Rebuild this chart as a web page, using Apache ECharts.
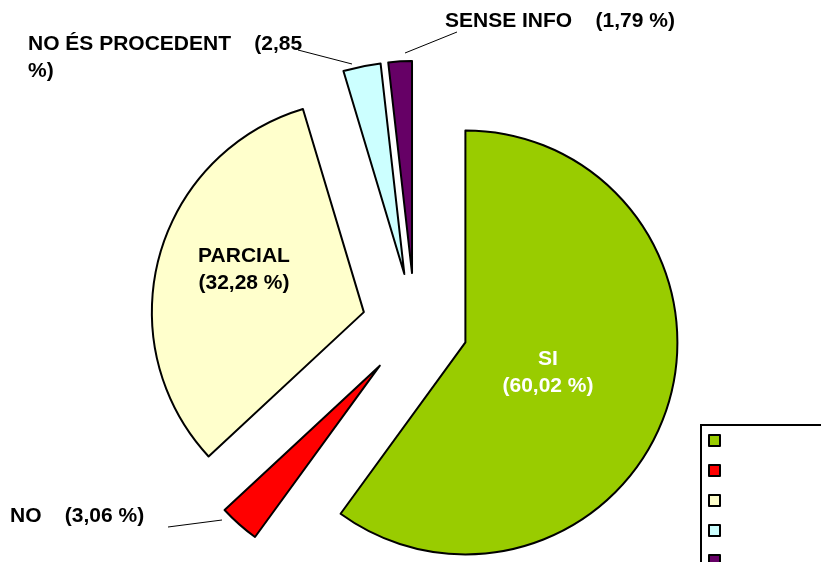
<!DOCTYPE html>
<html>
<head>
<meta charset="utf-8">
<script src="https://cdn.jsdelivr.net/npm/echarts@6/dist/echarts.min.js"></script>
<style>
  html, body { margin: 0; padding: 0; background: #fff; }
  #chart { width: 821px; height: 562px; }
</style>
</head>
<body>
<div id="chart"></div>
<script>
// categories and percentages
const categories = ['SI', 'NO', 'PARCIAL', 'NO ÉS PROCEDENT', 'SENSE INFO']
const values = [60.02, 3.06, 32.28, 2.85, 1.79]

const sliceColors = ['#99cc00', '#ff0000', '#ffffcc', '#ccffff', '#660066']
const insideLabels = ['SI', 'PARCIAL']

// where each label sits, and its leader line (start near the slice, end near the text)
const labelSpots = [
  { x: 548, y: 373, align: 'center' },
  { x: 10, y: 516, align: 'left', line: [[222, 520], [168, 527]] },
  { x: 244, y: 270, align: 'center' },
  { x: 28, y: 58, align: 'left', wrap: true, line: [[352, 64], [298, 50]] },
  { x: 445, y: 21, align: 'left', line: [[405, 53], [457, 32]] }
]

const fmt = v => v.toFixed(2).replace('.', ',')

const chart = echarts.init(document.getElementById('chart'))

// exploded slices
const sliceData = categories.map((name, i) => ({
  name: name,
  value: values[i],
  selected: true,
  itemStyle: { color: sliceColors[i] }
}))

// same pie, not exploded and invisible, only carries the labels
const labelData = categories.map((name, i) => {
  const inside = insideLabels.indexOf(name) >= 0
  const pct = fmt(values[i]) + (labelSpots[i].wrap ? '\n' : ' ') + '%)'
  return {
    name: name,
    value: values[i],
    label: inside
      ? {
          position: 'inside',
          formatter: '{b}\n(' + pct,
          color: name === 'SI' ? '#fff' : '#000'
        }
      : {
          position: 'outside',
          width: 300,
          formatter: '{b}    (' + pct
        },
    labelLine: { show: !inside }
  }
})

chart.setOption({
  backgroundColor: '#fff',
  animation: false,
  legend: {
    orient: 'vertical',
    left: 701,
    top: 425,
    height: 220,
    width: 400,
    padding: [9, 0, 40, 7],
    itemWidth: 11,
    itemHeight: 11,
    itemGap: 17,
    icon: 'rect',
    borderColor: '#000',
    borderWidth: 2,
    selectedMode: false,
    textStyle: { fontSize: 11, padding: [0, 0, 0, 200], color: '#000' },
    data: categories
  },
  series: [
    {
      type: 'pie',
      center: [415, 326],
      radius: 212,
      startAngle: 90,
      clockwise: true,
      selectedMode: 'multiple',
      selectedOffset: 53,
      silent: true,
      emphasis: { disabled: true },
      itemStyle: { borderColor: '#000', borderWidth: 2 },
      label: { show: false },
      labelLine: { show: false },
      data: sliceData
    },
    {
      type: 'pie',
      center: [415, 326],
      radius: 212,
      startAngle: 90,
      clockwise: true,
      silent: true,
      avoidLabelOverlap: false,
      emphasis: { disabled: true },
      itemStyle: { color: 'rgba(0,0,0,0)', borderWidth: 0 },
      label: {
        fontFamily: 'Liberation Sans, Arial, sans-serif',
        fontWeight: 'bold',
        fontSize: 21,
        lineHeight: 27,
        color: '#000'
      },
      labelLine: {
        lineStyle: { color: '#000', width: 1 }
      },
      labelLayout: function (params) {
        const s = labelSpots[params.dataIndex]
        const out = { x: s.x, y: s.y, align: s.align, verticalAlign: 'middle' }
        if (s.line) out.labelLinePoints = s.line
        return out
      },
      data: labelData
    }
  ]
})
</script>
</body>
</html>
